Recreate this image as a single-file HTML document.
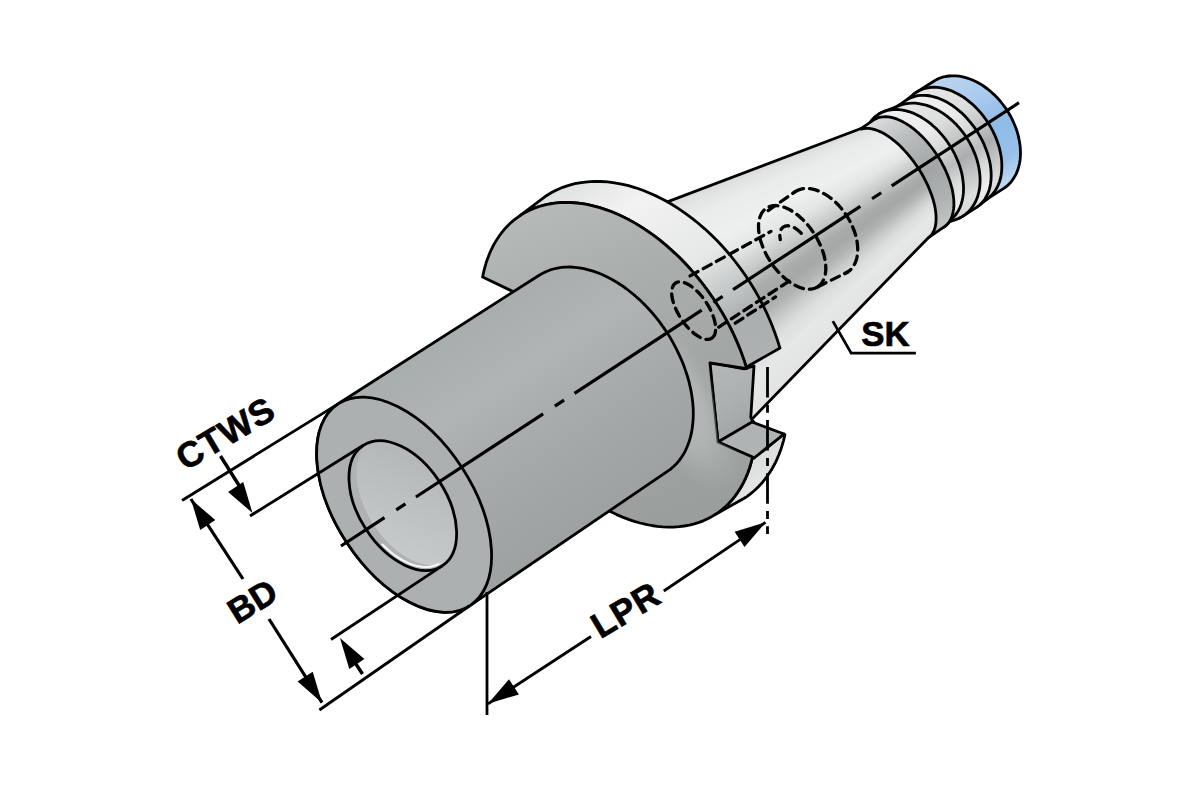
<!DOCTYPE html>
<html><head><meta charset="utf-8"><style>
html,body{margin:0;padding:0;background:#fff;}
svg{display:block;}
text{font-family:"Liberation Sans",sans-serif;font-weight:bold;}
</style></head><body>
<svg width="1200" height="800" viewBox="0 0 1200 800">
<defs><linearGradient id="rg_blue" gradientUnits="userSpaceOnUse" x1="882.9" y1="114.0" x2="954.1" y2="222.8"><stop offset="0" stop-color="#bcd5ef"/><stop offset="0.3" stop-color="#a9caee"/><stop offset="0.55" stop-color="#8fbbe8"/><stop offset="0.8" stop-color="#98c0ea"/><stop offset="1" stop-color="#c7dcf1"/></linearGradient>
<linearGradient id="rg_gray" gradientUnits="userSpaceOnUse" x1="882.9" y1="114.0" x2="954.1" y2="222.8"><stop offset="0" stop-color="#dcdede"/><stop offset="0.25" stop-color="#b9bdbd"/><stop offset="0.55" stop-color="#a1a5a5"/><stop offset="0.8" stop-color="#aeb2b2"/><stop offset="1" stop-color="#c5c8c8"/></linearGradient>
<linearGradient id="rg_l1" gradientUnits="userSpaceOnUse" x1="882.9" y1="114.0" x2="954.1" y2="222.8"><stop offset="0" stop-color="#f0f0f0"/><stop offset="0.3" stop-color="#ebebeb"/><stop offset="0.5" stop-color="#d2d4d4"/><stop offset="0.62" stop-color="#babdbd"/><stop offset="0.75" stop-color="#d8dada"/><stop offset="0.9" stop-color="#eeeeee"/><stop offset="1" stop-color="#e6e6e6"/></linearGradient>
<linearGradient id="rg_l2" gradientUnits="userSpaceOnUse" x1="882.9" y1="114.0" x2="954.1" y2="222.8"><stop offset="0" stop-color="#e8e8e8"/><stop offset="0.3" stop-color="#dcdddd"/><stop offset="0.5" stop-color="#c0c3c3"/><stop offset="0.62" stop-color="#aaadad"/><stop offset="0.75" stop-color="#c2c5c5"/><stop offset="0.9" stop-color="#dddede"/><stop offset="1" stop-color="#d8d8d8"/></linearGradient>
<linearGradient id="cg" gradientUnits="userSpaceOnUse" x1="739.8" y1="153.7" x2="860.2" y2="337.9"><stop offset="0" stop-color="#dcdcdc"/><stop offset="0.07" stop-color="#e4e4e4"/><stop offset="0.15" stop-color="#efefef"/><stop offset="0.3" stop-color="#ebebeb"/><stop offset="0.42" stop-color="#d6d7d7"/><stop offset="0.5" stop-color="#bec0c0"/><stop offset="0.58" stop-color="#a7aaaa"/><stop offset="0.645" stop-color="#b0b3b3"/><stop offset="0.71" stop-color="#cdcfcf"/><stop offset="0.78" stop-color="#e6e6e6"/><stop offset="0.9" stop-color="#ececec"/><stop offset="1" stop-color="#e4e4e4"/></linearGradient>
<clipPath id="coneclip"><path d="M600.0 227.4 L861.0 128.5 L861.5 129.1 L863.9 128.5 L866.4 128.3 L869.1 128.4 L871.9 128.8 L874.9 129.6 L878.0 130.7 L881.1 132.1 L884.3 133.8 L887.6 135.9 L890.9 138.2 L894.3 140.8 L897.6 143.6 L900.9 146.7 L904.1 150.1 L907.3 153.6 L910.4 157.3 L913.4 161.2 L916.3 165.2 L919.0 169.3 L921.6 173.5 L924.0 177.8 L926.2 182.1 L928.2 186.4 L930.0 190.7 L931.6 195.0 L933.0 199.2 L934.1 203.3 L935.0 207.3 L935.6 211.2 L936.0 214.9 L936.1 218.5 L936.0 221.8 L935.6 224.9 L935.0 227.7 L934.1 230.3 L932.9 232.7 L931.6 234.7 L930.0 236.4 L928.1 237.9 L700.0 472.5 Z"/></clipPath>
<linearGradient id="rimg" gradientUnits="userSpaceOnUse" x1="546.4" y1="195.7" x2="744.2" y2="498.3"><stop offset="0" stop-color="#e0e1e1"/><stop offset="0.15" stop-color="#f2f2f2"/><stop offset="0.38" stop-color="#e6e7e7"/><stop offset="0.48" stop-color="#c8cbcb"/><stop offset="0.58" stop-color="#aaaeae"/><stop offset="0.72" stop-color="#aeb2b2"/><stop offset="0.85" stop-color="#d2d4d4"/><stop offset="1" stop-color="#e6e6e6"/></linearGradient>
<linearGradient id="slotg" gradientUnits="userSpaceOnUse" x1="712.0" y1="370.0" x2="752.0" y2="430.0"><stop offset="0" stop-color="#b3b7b7"/><stop offset="0.5" stop-color="#acb0b0"/><stop offset="1" stop-color="#a0a4a4"/></linearGradient>
<linearGradient id="ffg" gradientUnits="userSpaceOnUse" x1="560.0" y1="195.0" x2="680.0" y2="520.0"><stop offset="0" stop-color="#b6bab9"/><stop offset="0.3" stop-color="#a9adac"/><stop offset="0.7" stop-color="#a0a4a3"/><stop offset="1" stop-color="#9a9e9d"/></linearGradient>
<clipPath id="ffclip"><path d="M482.6 277.1 L483.8 271.3 L485.3 265.6 L487.0 260.2 L489.0 254.9 L491.2 249.8 L493.6 245.0 L496.3 240.4 L499.2 236.0 L502.3 231.8 L505.6 227.9 L509.2 224.3 L512.9 220.9 L516.9 217.8 L521.0 215.0 L525.3 212.4 L529.8 210.1 L534.5 208.1 L539.3 206.5 L544.2 205.1 L549.3 204.0 L554.6 203.2 L559.9 202.7 L565.3 202.5 L570.9 202.6 L576.5 203.0 L582.3 203.7 L588.0 204.7 L593.9 206.1 L599.8 207.7 L605.7 209.6 L611.6 211.8 L617.6 214.3 L623.5 217.0 L629.5 220.1 L635.4 223.4 L641.3 227.0 L647.1 230.8 L652.9 234.9 L658.6 239.2 L664.3 243.8 L669.8 248.6 L675.3 253.6 L680.7 258.8 L685.9 264.2 L691.0 269.8 L696.0 275.6 L700.8 281.5 L705.5 287.6 L710.0 293.9 L714.4 300.2 L718.5 306.7 L722.5 313.3 L726.3 320.0 L729.9 326.8 L733.2 333.7 L736.4 340.6 L739.3 347.6 L742.0 354.6 L744.5 361.6 L746.7 368.6 L710.0 363.0 L718.0 442.0 L752.5 457.0 L751.1 462.6 L749.5 468.0 L747.6 473.2 L745.5 478.3 L743.2 483.1 L740.6 487.7 L737.8 492.1 L734.8 496.3 L731.6 500.3 L728.2 503.9 L724.6 507.4 L720.8 510.5 L716.8 513.5 L712.6 516.1 L708.3 518.5 L703.8 520.6 L699.1 522.4 L694.3 523.9 L689.3 525.1 L684.3 526.0 L679.1 526.7 L673.7 527.1 L668.3 527.1 L662.8 526.9 L657.2 526.4 L651.6 525.5 L645.9 524.4 L640.1 523.0 L634.3 521.3 L628.5 519.4 L622.6 517.1 L616.7 514.6 L610.9 511.8 L605.0 508.7 L599.2 505.4 L593.4 501.8 L587.7 498.0 L582.0 493.9 L576.3 489.6 L570.8 485.0 L565.3 480.3 L559.9 475.3 L554.7 470.2 L549.5 464.8 L544.5 459.3 L539.6 453.6 L534.9 447.7 L530.3 441.7 L525.8 435.5 L521.5 429.3 L517.5 422.9 L513.5 416.3 L509.8 409.7 L506.3 403.1 L502.9 396.3 L499.8 389.5 L496.9 382.6 L494.2 375.8 L491.8 368.9 L489.5 361.9 L526.0 367.0 L514.0 292.0 Z"/></clipPath>
<radialGradient id="ffhl"><stop offset="0" stop-color="#c4c8c8" stop-opacity="0.9"/><stop offset="0.6" stop-color="#bcc0c0" stop-opacity="0.5"/><stop offset="1" stop-color="#b0b4b4" stop-opacity="0"/></radialGradient>
<linearGradient id="shg" gradientUnits="userSpaceOnUse" x1="338.2" y1="403.8" x2="470.0" y2="605.6"><stop offset="0" stop-color="#a8adad"/><stop offset="0.3" stop-color="#b0b4b4"/><stop offset="0.55" stop-color="#a7abab"/><stop offset="0.8" stop-color="#a1a5a5"/><stop offset="1" stop-color="#9da1a1"/></linearGradient>
<linearGradient id="bore" gradientUnits="userSpaceOnUse" x1="370.0" y1="450.0" x2="450.0" y2="565.0"><stop offset="0" stop-color="#b0b4b4"/><stop offset="0.5" stop-color="#bec1c1"/><stop offset="1" stop-color="#cacdcd"/></linearGradient>
<clipPath id="boreclip"><ellipse cx="402.8" cy="505.6" rx="72.0" ry="43.8" transform="rotate(56.82 402.8 505.6)" /></clipPath></defs>
<rect width="1200" height="800" fill="#fff"/>
<path d="M906.3 151.7 L904.9 147.7 L903.6 143.6 L902.7 139.5 L901.9 135.4 L901.4 131.5 L901.2 127.5 L901.2 123.7 L901.4 120.0 L901.9 116.4 L902.6 112.9 L903.6 109.6 L904.8 106.5 L906.2 103.6 L907.9 100.8 L909.7 98.3 L911.8 96.0 L914.0 94.0 L916.5 92.2 L933.8 81.2 L936.5 79.6 L939.4 78.3 L942.4 77.2 L945.6 76.5 L948.9 76.0 L952.3 75.8 L955.7 75.8 L959.2 76.2 L962.8 76.9 L966.4 77.8 L970.0 79.0 L973.6 80.5 L977.2 82.2 L980.7 84.2 L984.2 86.5 L987.6 89.0 L990.9 91.7 L994.1 94.6 L997.2 97.7 L1000.1 101.0 L1002.9 104.5 L1005.6 108.1 L1008.0 111.8 L1010.3 115.7 L1012.3 119.6 L1014.1 123.7 L1015.8 127.7 L1017.2 131.8 L1018.3 135.9 L1019.2 140.1 L1019.9 144.2 L1020.3 148.2 L1020.5 152.2 L1020.4 156.1 L1020.1 159.9 L1019.5 163.5 L1018.6 167.1 L1017.6 170.4 L1016.3 173.6 L1014.7 176.6 L1012.9 179.4 L1011.0 182.0 L1008.8 184.4 L1006.4 186.5 L1003.8 188.4 L986.5 199.4 L983.9 200.9 L981.2 202.1 L978.2 203.1 L975.2 203.8 L972.0 204.2 L968.8 204.4 L965.5 204.2 L962.0 203.8 L958.6 203.0 L955.1 202.0 L951.6 200.8 L948.1 199.2 L944.6 197.4 L941.1 195.4 L937.7 193.1 L934.4 190.5 L931.1 187.8 L927.9 184.8 L924.9 181.7 L922.0 178.4 L919.2 174.9 L916.6 171.3 L914.1 167.6 L911.9 163.7 L909.8 159.8 L907.9 155.8 Z" fill="url(#rg_blue)" stroke="#000" stroke-width="2.8" stroke-linejoin="round"/>
<path d="M895.2 150.5 L894.1 146.4 L893.3 142.4 L892.8 138.5 L892.5 134.6 L892.4 130.8 L892.6 127.1 L893.0 123.5 L893.6 120.1 L894.5 116.9 L895.6 113.8 L897.0 111.0 L898.5 108.3 L900.3 105.8 L902.3 103.6 L904.4 101.7 L914.0 94.0 L916.5 92.2 L919.1 90.7 L921.8 89.5 L924.8 88.5 L927.8 87.8 L931.0 87.4 L934.2 87.2 L937.5 87.4 L941.0 87.8 L944.4 88.6 L947.9 89.6 L951.4 90.8 L954.9 92.4 L958.4 94.2 L961.9 96.2 L965.3 98.5 L968.6 101.1 L971.9 103.8 L975.1 106.8 L978.1 109.9 L981.0 113.2 L983.8 116.7 L986.4 120.3 L988.9 124.0 L991.1 127.9 L993.2 131.8 L995.1 135.8 L996.7 139.9 L998.1 143.9 L999.4 148.0 L1000.3 152.1 L1001.1 156.2 L1001.6 160.1 L1001.8 164.1 L1001.8 167.9 L1001.6 171.6 L1001.1 175.2 L1000.4 178.7 L999.4 182.0 L998.2 185.1 L996.8 188.0 L995.1 190.8 L993.3 193.3 L991.2 195.6 L989.0 197.6 L979.2 205.3 L976.8 207.1 L974.3 208.5 L971.6 209.7 L968.8 210.6 L965.9 211.3 L962.8 211.6 L959.6 211.7 L956.4 211.5 L953.1 211.0 L949.7 210.2 L946.3 209.2 L942.8 207.8 L939.4 206.3 L935.9 204.4 L932.5 202.3 L929.2 200.0 L925.9 197.4 L922.6 194.7 L919.5 191.7 L916.5 188.5 L913.6 185.2 L910.8 181.7 L908.2 178.1 L905.8 174.4 L903.5 170.5 L901.4 166.6 L899.5 162.6 L897.9 158.6 L896.4 154.5 Z" fill="url(#rg_l2)" stroke="#000" stroke-width="2.8" stroke-linejoin="round"/>
<path d="M877.1 137.1 L877.7 133.5 L878.6 129.9 L879.6 126.6 L880.9 123.4 L882.5 120.4 L884.3 117.6 L886.2 115.0 L888.4 112.6 L890.8 110.5 L893.4 108.6 L906.8 99.9 L909.3 98.5 L912.0 97.3 L914.8 96.4 L917.7 95.7 L920.8 95.4 L924.0 95.3 L927.2 95.5 L930.5 96.0 L933.9 96.8 L937.3 97.8 L940.8 99.2 L944.2 100.7 L947.7 102.6 L951.1 104.7 L954.4 107.0 L957.7 109.6 L961.0 112.3 L964.1 115.3 L967.1 118.5 L970.0 121.8 L972.8 125.3 L975.4 128.9 L977.8 132.6 L980.1 136.5 L982.2 140.4 L984.1 144.4 L985.7 148.4 L987.2 152.5 L988.4 156.5 L989.5 160.6 L990.3 164.6 L990.8 168.5 L991.1 172.4 L991.2 176.2 L991.0 179.9 L990.6 183.5 L990.0 186.9 L989.1 190.1 L988.0 193.2 L986.6 196.0 L985.1 198.7 L983.3 201.2 L981.3 203.4 L979.2 205.3 L976.8 207.1 L963.4 215.8 L960.7 217.4 L957.8 218.7 L954.8 219.8 L951.6 220.5 L948.3 221.0 L944.9 221.2 L941.5 221.2 L938.0 220.8 L934.4 220.1 L930.8 219.2 L927.2 218.0 L923.6 216.5 L920.0 214.8 L916.5 212.8 L913.0 210.5 L909.6 208.0 L906.3 205.3 L903.1 202.4 L900.0 199.3 L897.1 196.0 L894.3 192.5 L891.6 188.9 L889.2 185.2 L886.9 181.3 L884.9 177.4 L883.1 173.3 L881.4 169.3 L880.0 165.2 L878.9 161.1 L878.0 156.9 L877.3 152.8 L876.9 148.8 L876.7 144.8 L876.8 140.9 Z" fill="url(#rg_l1)" stroke="#000" stroke-width="2.8" stroke-linejoin="round"/>
<path d="M866.0 165.4 L865.0 161.4 L864.3 157.3 L863.8 153.3 L863.5 149.4 L863.5 145.6 L863.7 141.9 L864.2 138.3 L864.9 134.9 L865.8 131.6 L867.0 128.5 L868.4 125.6 L870.0 122.9 L871.8 120.4 L873.8 118.1 L876.1 116.1 L878.5 114.3 L881.1 112.8 L883.8 111.6 L899.0 105.7 L902.0 104.6 L905.2 103.9 L908.5 103.4 L911.9 103.2 L915.3 103.2 L918.8 103.6 L922.4 104.3 L926.0 105.2 L929.6 106.4 L933.2 107.9 L936.8 109.6 L940.3 111.6 L943.8 113.9 L947.2 116.4 L950.5 119.1 L953.7 122.0 L956.8 125.1 L959.7 128.4 L962.5 131.9 L965.2 135.5 L967.6 139.2 L969.9 143.1 L971.9 147.0 L973.7 151.1 L975.4 155.1 L976.8 159.2 L977.9 163.3 L978.8 167.5 L979.5 171.6 L979.9 175.6 L980.1 179.6 L980.0 183.5 L979.7 187.3 L979.1 190.9 L978.2 194.5 L977.2 197.8 L975.9 201.0 L974.3 204.0 L972.5 206.8 L970.6 209.4 L968.4 211.8 L966.0 213.9 L963.4 215.8 L960.7 217.4 L957.8 218.7 L943.2 224.2 L940.3 225.2 L937.3 225.8 L934.2 226.2 L931.0 226.3 L927.6 226.2 L924.3 225.7 L920.8 225.0 L917.4 224.0 L913.9 222.7 L910.4 221.1 L906.9 219.3 L903.5 217.2 L900.1 214.9 L896.7 212.4 L893.5 209.6 L890.3 206.7 L887.3 203.5 L884.4 200.2 L881.6 196.7 L879.0 193.1 L876.6 189.4 L874.3 185.5 L872.2 181.6 L870.4 177.6 L868.7 173.6 L867.2 169.5 Z" fill="url(#rg_l2)" stroke="#000" stroke-width="2.8" stroke-linejoin="round"/>
<path d="M955.2 215.4 L947.7 223.8 L946.0 225.5 L944.1 226.9 L942.1 228.0 L939.9 228.9 L937.5 229.5 L935.1 229.8 L932.5 229.9 L929.7 229.7 L926.9 229.2 L924.0 228.4 L921.0 227.4 L918.0 226.1 L914.9 224.5 L911.8 222.7 L908.6 220.7 L903.5 217.2 L900.1 214.9 L896.7 212.4 L893.5 209.6 L890.3 206.7 L887.3 203.5 L884.4 200.2 L881.6 196.7 L879.0 193.1 L876.6 189.4 L874.3 185.5 L872.2 181.6 L870.4 177.6 L868.7 173.6 L867.2 169.5 L866.0 165.4 L865.0 161.4 L864.3 157.3 L863.8 153.3 L863.5 149.4 L863.5 145.6 L863.7 141.9 L864.2 138.3 L864.9 134.9 L865.8 131.6 L866.6 129.2 L867.0 128.5 L867.7 126.8 L868.4 125.6 L870.0 122.9 L871.8 120.4 L873.8 118.1 L876.1 116.1 L878.5 114.3 L881.1 112.8 L883.8 111.6 L886.7 110.6 L889.7 110.0 L892.8 109.6 L896.0 109.5 L899.4 109.6 L902.7 110.1 L906.2 110.8 L909.6 111.8 L913.1 113.1 L916.6 114.7 L920.1 116.5 L923.5 118.6 L926.9 120.9 L930.3 123.4 L933.5 126.2 L936.7 129.1 L939.7 132.3 L942.6 135.6 L945.4 139.1 L948.0 142.7 L950.4 146.4 L952.7 150.3 L954.8 154.2 L956.6 158.2 L958.3 162.2 L959.8 166.3 L961.0 170.4 L962.0 174.4 L962.7 178.5 L963.2 182.5 L963.5 186.4 L963.5 190.2 L963.3 193.9 L962.8 197.5 L962.1 200.9 L961.2 204.2 L960.0 207.3 L958.6 210.2 L957.0 212.9 Z" fill="url(#rg_l1)" stroke="#000" stroke-width="2.8" stroke-linejoin="round"/>
<path d="M944.1 226.9 L928.1 237.9 L926.3 238.9 L924.3 239.6 L922.2 240.1 L919.9 240.3 L917.5 240.2 L914.9 239.9 L912.3 239.3 L909.5 238.4 L906.7 237.3 L903.8 235.9 L900.9 234.2 L897.9 232.3 L894.9 230.2 L891.9 227.8 L888.9 225.3 L886.0 222.5 L883.0 219.5 L880.1 216.4 L877.3 213.1 L874.5 209.7 L871.9 206.2 L869.3 202.5 L866.9 198.8 L864.6 195.0 L862.4 191.1 L860.3 187.2 L858.5 183.3 L856.8 179.4 L855.3 175.5 L853.9 171.7 L852.8 167.9 L851.8 164.2 L851.1 160.6 L850.5 157.1 L850.2 153.8 L850.1 150.6 L850.1 147.5 L850.4 144.7 L850.9 142.0 L851.6 139.6 L852.5 137.3 L853.6 135.3 L854.9 133.5 L856.4 132.0 L858.1 130.7 L874.1 119.7 L876.1 118.6 L878.3 117.7 L880.7 117.1 L883.1 116.8 L885.7 116.7 L888.5 116.9 L891.3 117.4 L894.2 118.2 L897.2 119.2 L900.2 120.5 L903.3 122.1 L906.4 123.9 L909.6 125.9 L912.7 128.2 L915.8 130.7 L918.9 133.4 L921.9 136.3 L924.9 139.4 L927.8 142.6 L930.5 146.0 L933.2 149.5 L935.8 153.2 L938.3 156.9 L940.6 160.7 L942.7 164.6 L944.7 168.5 L946.5 172.5 L948.1 176.4 L949.6 180.4 L950.8 184.3 L951.9 188.1 L952.7 191.9 L953.3 195.6 L953.7 199.1 L953.9 202.6 L953.9 205.9 L953.6 209.0 L953.1 212.0 L952.5 214.8 L951.6 217.4 L950.5 219.8 L949.2 221.9 L947.7 223.8 L946.0 225.5 Z" fill="url(#rg_gray)" stroke="#000" stroke-width="2.8" stroke-linejoin="round"/>
<g clip-path="url(#coneclip)"><polygon points="1148.0,19.8 614.4,615.9 608.2,610.2" fill="#e2e4e4"/><polygon points="1148.0,19.8 611.0,612.7 604.7,607.0" fill="#e2e4e4"/><polygon points="1148.0,19.8 607.5,609.6 601.3,603.8" fill="#e2e4e4"/><polygon points="1148.0,19.8 604.0,606.4 597.9,600.6" fill="#e2e4e4"/><polygon points="1148.0,19.8 600.6,603.2 594.5,597.4" fill="#e2e4e4"/><polygon points="1148.0,19.8 597.2,600.0 591.1,594.1" fill="#e2e4e4"/><polygon points="1148.0,19.8 593.8,596.7 587.7,590.8" fill="#e2e4e4"/><polygon points="1148.0,19.8 590.4,593.5 584.4,587.5" fill="#e2e4e4"/><polygon points="1148.0,19.8 587.0,590.2 581.0,584.2" fill="#e2e4e4"/><polygon points="1148.0,19.8 583.7,586.9 577.7,580.9" fill="#e2e4e4"/><polygon points="1148.0,19.8 580.4,583.5 574.4,577.5" fill="#e3e5e5"/><polygon points="1148.0,19.8 577.1,580.2 571.2,574.1" fill="#e3e5e5"/><polygon points="1148.0,19.8 573.8,576.8 567.9,570.7" fill="#e4e6e6"/><polygon points="1148.0,19.8 570.5,573.5 564.7,567.3" fill="#e4e6e6"/><polygon points="1148.0,19.8 567.3,570.1 561.5,563.9" fill="#e5e7e7"/><polygon points="1148.0,19.8 564.1,566.6 558.3,560.4" fill="#e5e7e7"/><polygon points="1148.0,19.8 560.9,563.2 555.2,557.0" fill="#e6e8e8"/><polygon points="1148.0,19.8 557.7,559.7 552.0,553.5" fill="#e6e8e8"/><polygon points="1148.0,19.8 554.5,556.3 548.9,550.0" fill="#e4e6e6"/><polygon points="1148.0,19.8 551.4,552.8 545.8,546.4" fill="#e2e4e4"/><polygon points="1148.0,19.8 548.3,549.2 542.7,542.9" fill="#e0e2e2"/><polygon points="1148.0,19.8 545.2,545.7 539.6,539.3" fill="#dfe1e1"/><polygon points="1148.0,19.8 542.1,542.2 536.6,535.7" fill="#dddfdf"/><polygon points="1148.0,19.8 539.0,538.6 533.6,532.1" fill="#dadcdc"/><polygon points="1148.0,19.8 536.0,535.0 530.6,528.5" fill="#d6d8d8"/><polygon points="1148.0,19.8 533.0,531.4 527.6,524.9" fill="#d2d4d4"/><polygon points="1148.0,19.8 530.0,527.8 524.6,521.2" fill="#cdcfcf"/><polygon points="1148.0,19.8 527.0,524.2 521.7,517.6" fill="#c9cbcb"/><polygon points="1148.0,19.8 524.1,520.5 518.8,513.9" fill="#c4c6c6"/><polygon points="1148.0,19.8 521.1,516.8 515.9,510.2" fill="#bec0c0"/><polygon points="1148.0,19.8 518.2,513.1 513.0,506.4" fill="#b9bbbb"/><polygon points="1148.0,19.8 515.3,509.4 510.2,502.7" fill="#b4b6b6"/><polygon points="1148.0,19.8 512.5,505.7 507.4,499.0" fill="#b0b2b2"/><polygon points="1148.0,19.8 509.6,502.0 504.6,495.2" fill="#aeb0b0"/><polygon points="1148.0,19.8 506.8,498.2 501.8,491.4" fill="#abadad"/><polygon points="1148.0,19.8 504.0,494.4 499.0,487.6" fill="#a8aaaa"/><polygon points="1148.0,19.8 501.2,490.6 496.3,483.8" fill="#a6a8a8"/><polygon points="1148.0,19.8 498.5,486.8 493.6,479.9" fill="#a7a9a9"/><polygon points="1148.0,19.8 495.7,483.0 490.9,476.1" fill="#a8aaaa"/><polygon points="1148.0,19.8 493.0,479.2 488.2,472.2" fill="#a9abab"/><polygon points="1148.0,19.8 490.3,475.3 485.6,468.3" fill="#aaacac"/><polygon points="1148.0,19.8 487.7,471.4 482.9,464.4" fill="#aeb0b0"/><polygon points="1148.0,19.8 485.0,467.6 480.3,460.5" fill="#b2b4b4"/><polygon points="1148.0,19.8 482.4,463.7 477.8,456.6" fill="#b6b8b8"/><polygon points="1148.0,19.8 479.8,459.7 475.2,452.6" fill="#babcbc"/><polygon points="1148.0,19.8 477.3,455.8 472.7,448.7" fill="#bec0c0"/><polygon points="1148.0,19.8 474.7,451.9 470.2,444.7" fill="#c2c4c4"/><polygon points="1148.0,19.8 472.2,447.9 467.7,440.7" fill="#c6c8c8"/><polygon points="1148.0,19.8 469.7,443.9 465.2,436.7" fill="#cacccc"/><polygon points="1148.0,19.8 467.2,439.9 462.8,432.7" fill="#ced0d0"/><polygon points="1148.0,19.8 464.7,435.9 460.4,428.7" fill="#d1d3d3"/><polygon points="1148.0,19.8 462.3,431.9 458.0,424.6" fill="#d5d7d7"/><polygon points="1148.0,19.8 459.9,427.9 455.6,420.6" fill="#d8dada"/><polygon points="1148.0,19.8 457.5,423.8 453.3,416.5" fill="#dcdede"/><polygon points="1148.0,19.8 455.2,419.8 451.0,412.4" fill="#dfe1e1"/><polygon points="1148.0,19.8 452.8,415.7 448.7,408.3" fill="#e2e4e4"/><polygon points="1148.0,19.8 450.5,411.6 446.4,404.2" fill="#e5e7e7"/><polygon points="1148.0,19.8 448.2,407.5 444.2,400.1" fill="#e6e8e8"/><polygon points="1148.0,19.8 446.0,403.4 441.9,395.9" fill="#e7e9e9"/><polygon points="1148.0,19.8 443.7,399.2 439.7,391.8" fill="#e9ebeb"/><polygon points="1148.0,19.8 441.5,395.1 437.6,387.6" fill="#eaecec"/><polygon points="1148.0,19.8 439.3,390.9 435.4,383.4" fill="#eceeee"/><polygon points="1148.0,19.8 437.1,386.8 433.3,379.2" fill="#edefef"/><polygon points="1148.0,19.8 435.0,382.6 431.2,375.0" fill="#eef0f0"/><polygon points="1148.0,19.8 432.9,378.4 429.1,370.8" fill="#eef0f0"/><polygon points="1148.0,19.8 430.8,374.2 427.1,366.6" fill="#edefef"/><polygon points="1148.0,19.8 428.7,370.0 425.0,362.3" fill="#edefef"/><polygon points="1148.0,19.8 426.7,365.7 423.0,358.1" fill="#eceeee"/><polygon points="1148.0,19.8 424.6,361.5 421.1,353.8" fill="#eceeee"/><polygon points="1148.0,19.8 422.7,357.2 419.1,349.6" fill="#eceeee"/><polygon points="1148.0,19.8 420.7,353.0 417.2,345.3" fill="#ebeded"/><polygon points="1148.0,19.8 418.7,348.7 415.3,341.0" fill="#ebeded"/><polygon points="1148.0,19.8 416.8,344.4 413.4,336.7" fill="#ebeded"/><polygon points="1148.0,19.8 414.9,340.1 411.6,332.3" fill="#eaecec"/><polygon points="1148.0,19.8 413.1,335.8 409.8,328.0" fill="#e9ebeb"/><polygon points="1148.0,19.8 411.2,331.5 408.0,323.7" fill="#e7e9e9"/><polygon points="1148.0,19.8 409.4,327.1 406.2,319.3" fill="#e5e7e7"/><polygon points="1148.0,19.8 407.6,322.8 404.4,315.0" fill="#e4e6e6"/><polygon points="1148.0,19.8 405.8,318.4 402.7,310.6" fill="#e2e4e4"/><polygon points="1148.0,19.8 404.1,314.1 401.0,306.2" fill="#dfe1e1"/><polygon points="1148.0,19.8 402.4,309.7 399.4,301.8" fill="#dcdede"/><polygon points="1148.0,19.8 400.7,305.3 397.7,297.4" fill="#d8dada"/><polygon points="1148.0,19.8 399.0,300.9 396.1,293.0" fill="#d8dada"/><polygon points="1148.0,19.8 397.4,296.5 394.5,288.6" fill="#d8dada"/><polygon points="1148.0,19.8 395.8,292.1 392.9,284.1" fill="#d8dada"/><polygon points="1148.0,19.8 394.2,287.7 391.4,279.7" fill="#d8dada"/><polygon points="1148.0,19.8 392.6,283.3 389.9,275.3" fill="#d8dada"/><polygon points="1148.0,19.8 391.1,278.8 388.4,270.8" fill="#d8dada"/><polygon points="1148.0,19.8 389.6,274.4 386.9,266.3" fill="#d8dada"/><polygon points="1148.0,19.8 388.1,269.9 385.5,261.9" fill="#d8dada"/></g>
<path d="M600.0 227.4 L861.0 128.5 L861.5 129.1 L863.9 128.5 L866.4 128.3 L869.1 128.4 L871.9 128.8 L874.9 129.6 L878.0 130.7 L881.1 132.1 L884.3 133.8 L887.6 135.9 L890.9 138.2 L894.3 140.8 L897.6 143.6 L900.9 146.7 L904.1 150.1 L907.3 153.6 L910.4 157.3 L913.4 161.2 L916.3 165.2 L919.0 169.3 L921.6 173.5 L924.0 177.8 L926.2 182.1 L928.2 186.4 L930.0 190.7 L931.6 195.0 L933.0 199.2 L934.1 203.3 L935.0 207.3 L935.6 211.2 L936.0 214.9 L936.1 218.5 L936.0 221.8 L935.6 224.9 L935.0 227.7 L934.1 230.3 L932.9 232.7 L931.6 234.7 L930.0 236.4 L928.1 237.9 L700.0 472.5 Z" fill="none" stroke="#000" stroke-width="2.8" stroke-linejoin="round"/>
<path d="M520.3 215.4 L525.3 212.4 L530.5 209.8 L535.9 207.6 L541.5 205.8 L547.3 204.4 L553.3 203.3 L559.4 202.7 L565.7 202.5 L572.1 202.7 L578.7 203.2 L585.3 204.2 L592.0 205.6 L598.8 207.4 L605.6 209.6 L612.5 212.1 L619.4 215.1 L626.2 218.4 L633.1 222.1 L639.9 226.1 L646.6 230.5 L653.3 235.2 L659.9 240.2 L666.4 245.6 L672.8 251.2 L679.0 257.1 L685.1 263.3 L691.0 269.8 L696.7 276.5 L702.3 283.4 L707.6 290.5 L712.7 297.8 L717.6 305.2 L722.2 312.8 L726.6 320.6 L730.7 328.4 L734.5 336.3 L738.0 344.3 L741.2 352.4 L744.1 360.5 L746.7 368.6 L744.0 368.5 L780.0 348.0 L779.9 348.0 L777.3 339.7 L774.4 331.5 L771.2 323.3 L767.7 315.2 L763.9 307.1 L759.8 299.1 L755.4 291.3 L750.7 283.6 L745.8 276.0 L740.6 268.6 L735.2 261.5 L729.6 254.5 L723.7 247.8 L717.7 241.3 L711.4 235.1 L705.0 229.1 L698.5 223.5 L691.8 218.1 L685.0 213.1 L678.1 208.4 L671.2 204.0 L664.1 200.0 L657.1 196.4 L649.9 193.2 L642.8 190.3 L635.7 187.8 L628.6 185.7 L621.6 184.1 L614.6 182.8 L607.7 181.9 L600.8 181.5 L594.1 181.4 L587.5 181.8 L581.1 182.6 L574.8 183.7 L568.7 185.3 L562.8 187.3 L557.1 189.7 L551.6 192.5 L546.4 195.7 Z" fill="url(#rimg)" stroke="#000" stroke-width="2.8" stroke-linejoin="round"/>
<path d="M754.0 458.0 L784.0 434.0 L784.9 434.6 L784.5 436.7 L784.0 438.7 L783.5 440.8 L782.9 442.8 L782.3 444.8 L781.7 446.8 L781.1 448.7 L780.4 450.7 L779.7 452.6 L779.0 454.5 L778.2 456.3 L777.4 458.2 L776.6 460.0 L775.8 461.8 L774.9 463.5 L774.0 465.3 L773.0 467.0 L772.1 468.7 L771.1 470.3 L770.1 471.9 L769.0 473.5 L768.0 475.1 L766.9 476.7 L765.7 478.2 L764.6 479.7 L763.4 481.1 L762.2 482.6 L761.0 484.0 L759.7 485.3 L758.4 486.7 L757.1 488.0 L755.8 489.3 L754.4 490.5 L753.0 491.7 L751.6 492.9 L750.2 494.1 L748.7 495.2 L747.3 496.3 L745.8 497.3 L744.2 498.3 L715.7 514.2 L717.0 513.3 L718.4 512.3 L719.7 511.4 L721.0 510.4 L722.3 509.3 L723.6 508.3 L724.8 507.2 L726.0 506.1 L727.2 504.9 L728.4 503.8 L729.5 502.6 L730.7 501.3 L731.8 500.1 L732.9 498.8 L733.9 497.5 L735.0 496.2 L736.0 494.8 L737.0 493.4 L737.9 492.0 L738.9 490.6 L739.8 489.1 L740.7 487.6 L741.6 486.1 L742.4 484.6 L743.2 483.0 L744.0 481.4 L744.8 479.8 L745.6 478.2 L746.3 476.5 L747.0 474.9 L747.6 473.2 L748.3 471.5 L748.9 469.7 L749.5 468.0 L750.1 466.2 L750.6 464.4 L751.1 462.5 L751.6 460.7 L752.1 458.8 L752.5 457.0 Z" fill="url(#rimg)" stroke="#000" stroke-width="2.8" stroke-linejoin="round"/>
<path d="M713 363 Q709 363 710 368 L718 442 L754 422 Q750 419 751 414 L754 366 L744 369 Z" fill="url(#slotg)" stroke="#000" stroke-width="2.8" stroke-linejoin="round"/>
<polygon points="718.0,442.0 752.0,422.0 784.0,434.0 754.0,458.0" fill="#b0b3b3" stroke="#000" stroke-width="2.8" stroke-linejoin="round"/>
<path d="M482.6 277.1 L483.8 271.3 L485.3 265.6 L487.0 260.2 L489.0 254.9 L491.2 249.8 L493.6 245.0 L496.3 240.4 L499.2 236.0 L502.3 231.8 L505.6 227.9 L509.2 224.3 L512.9 220.9 L516.9 217.8 L521.0 215.0 L525.3 212.4 L529.8 210.1 L534.5 208.1 L539.3 206.5 L544.2 205.1 L549.3 204.0 L554.6 203.2 L559.9 202.7 L565.3 202.5 L570.9 202.6 L576.5 203.0 L582.3 203.7 L588.0 204.7 L593.9 206.1 L599.8 207.7 L605.7 209.6 L611.6 211.8 L617.6 214.3 L623.5 217.0 L629.5 220.1 L635.4 223.4 L641.3 227.0 L647.1 230.8 L652.9 234.9 L658.6 239.2 L664.3 243.8 L669.8 248.6 L675.3 253.6 L680.7 258.8 L685.9 264.2 L691.0 269.8 L696.0 275.6 L700.8 281.5 L705.5 287.6 L710.0 293.9 L714.4 300.2 L718.5 306.7 L722.5 313.3 L726.3 320.0 L729.9 326.8 L733.2 333.7 L736.4 340.6 L739.3 347.6 L742.0 354.6 L744.5 361.6 L746.7 368.6 L710.0 363.0 L718.0 442.0 L752.5 457.0 L751.1 462.6 L749.5 468.0 L747.6 473.2 L745.5 478.3 L743.2 483.1 L740.6 487.7 L737.8 492.1 L734.8 496.3 L731.6 500.3 L728.2 503.9 L724.6 507.4 L720.8 510.5 L716.8 513.5 L712.6 516.1 L708.3 518.5 L703.8 520.6 L699.1 522.4 L694.3 523.9 L689.3 525.1 L684.3 526.0 L679.1 526.7 L673.7 527.1 L668.3 527.1 L662.8 526.9 L657.2 526.4 L651.6 525.5 L645.9 524.4 L640.1 523.0 L634.3 521.3 L628.5 519.4 L622.6 517.1 L616.7 514.6 L610.9 511.8 L605.0 508.7 L599.2 505.4 L593.4 501.8 L587.7 498.0 L582.0 493.9 L576.3 489.6 L570.8 485.0 L565.3 480.3 L559.9 475.3 L554.7 470.2 L549.5 464.8 L544.5 459.3 L539.6 453.6 L534.9 447.7 L530.3 441.7 L525.8 435.5 L521.5 429.3 L517.5 422.9 L513.5 416.3 L509.8 409.7 L506.3 403.1 L502.9 396.3 L499.8 389.5 L496.9 382.6 L494.2 375.8 L491.8 368.9 L489.5 361.9 L526.0 367.0 L514.0 292.0 Z" fill="url(#ffg)" stroke="#000" stroke-width="2.8" stroke-linejoin="round"/>
<g clip-path="url(#ffclip)"><ellipse cx="668.0" cy="392.0" rx="115.0" ry="45.0" transform="rotate(56.82 668.0 392.0)" fill="url(#ffhl)"/></g>
<path d="M538.8 275.5 L542.2 273.5 L545.8 271.7 L549.5 270.2 L553.4 269.0 L557.4 268.1 L561.6 267.4 L565.8 267.1 L570.2 267.0 L574.7 267.3 L579.2 267.8 L583.8 268.7 L588.4 269.8 L593.1 271.2 L597.9 272.8 L602.6 274.8 L607.3 277.0 L612.0 279.5 L616.7 282.3 L621.4 285.2 L626.0 288.5 L630.5 292.0 L635.0 295.7 L639.4 299.6 L643.7 303.7 L647.8 308.0 L651.9 312.5 L655.8 317.1 L659.5 321.9 L663.1 326.9 L666.6 332.0 L669.9 337.1 L672.9 342.4 L675.8 347.8 L678.5 353.3 L681.0 358.8 L683.3 364.3 L685.3 369.9 L687.2 375.5 L688.8 381.0 L690.1 386.6 L691.3 392.1 L692.1 397.6 L692.8 403.0 L693.2 408.3 L693.3 413.5 L693.2 418.6 L692.8 423.6 L692.2 428.5 L691.4 433.2 L690.3 437.7 L689.0 442.1 L687.4 446.3 L685.6 450.3 L683.6 454.0 L681.3 457.6 L678.9 460.9 L676.2 464.0 L673.3 466.8 L670.3 469.4 L667.0 471.7 L470.0 605.6 L466.9 607.4 L463.7 608.9 L460.2 610.2 L456.7 611.2 L452.9 611.8 L449.1 612.2 L445.1 612.3 L441.0 612.1 L436.8 611.6 L432.5 610.8 L428.1 609.8 L423.7 608.4 L419.2 606.7 L414.6 604.8 L410.1 602.6 L405.5 600.1 L400.9 597.4 L396.3 594.4 L391.8 591.2 L387.3 587.7 L382.8 584.0 L378.4 580.1 L374.1 575.9 L369.8 571.6 L365.6 567.1 L361.6 562.4 L357.6 557.6 L353.8 552.6 L350.1 547.5 L346.6 542.3 L343.2 537.0 L340.0 531.5 L337.0 526.1 L334.1 520.5 L331.5 514.9 L329.0 509.3 L326.8 503.7 L324.7 498.0 L322.9 492.4 L321.3 486.8 L320.0 481.3 L318.8 475.8 L317.9 470.4 L317.2 465.2 L316.8 460.0 L316.6 454.9 L316.7 450.0 L317.0 445.2 L317.5 440.6 L318.2 436.2 L319.2 431.9 L320.5 427.9 L321.9 424.0 L323.6 420.4 L325.5 417.0 L327.6 413.9 L330.0 411.0 L332.5 408.3 L335.2 406.0 L338.2 403.8 Z" fill="url(#shg)" stroke="#000" stroke-width="2.8" stroke-linejoin="round"/>
<ellipse cx="404.1" cy="504.7" rx="120.5" ry="68.7" transform="rotate(56.82 404.1 504.7)" fill="#acb0b0" stroke="#000" stroke-width="2.8"/>
<ellipse cx="402.8" cy="505.6" rx="72.0" ry="43.8" transform="rotate(56.82 402.8 505.6)" fill="#aeb2b2"/>
<g clip-path="url(#boreclip)"><ellipse cx="410.3" cy="500.7" rx="72.0" ry="43.8" transform="rotate(56.82 410.3 500.7)" fill="url(#bore)"/></g>
<path d="M382.6 544.6 L385.4 547.4 L388.3 550.0 L391.2 552.5 L394.2 554.8 L397.2 556.9 L400.2 558.8 L403.2 560.6 L406.2 562.1 L409.2 563.5 L412.2 564.6 L415.2 565.5 L418.1 566.2 L420.9 566.7 L423.7 567.0 L426.4 567.0 L429.1 566.8 L431.6 566.4 L434.0 565.8 L436.4 565.0 L438.6 564.0" fill="none" stroke="#f4f4f4" stroke-width="2.2" stroke-linecap="round"/>
<ellipse cx="402.8" cy="505.6" rx="72.0" ry="43.8" transform="rotate(56.82 402.8 505.6)" fill="none" stroke="#000" stroke-width="2.8"/>
<path d="M690.1 275.9 L770.9 231.4" fill="none" stroke="#000" stroke-width="3.3" stroke-dasharray="9 6" stroke-linecap="round"/>
<path d="M718.8 327.1 L789.1 281.1" fill="none" stroke="#000" stroke-width="3.3" stroke-dasharray="9 6" stroke-linecap="round"/>
<path d="M735.3 323.2 L775.5 296.9" fill="none" stroke="#000" stroke-width="3.3" stroke-dasharray="9 6" stroke-linecap="round"/>
<path d="M711.7 338.2 L713.2 336.9 L714.4 335.2 L715.2 333.0 L715.6 330.4 L715.7 327.5 L715.3 324.3 L714.6 320.9 L713.6 317.3 L712.2 313.6 L710.5 309.8 L708.5 306.1 L706.2 302.4 L703.8 298.9 L701.1 295.5 L698.4 292.5 L695.5 289.7 L692.6 287.3 L689.8 285.3 L687.0 283.7 L684.3 282.6 L681.8 282.0 L679.5 281.8 L677.4 282.2 L675.6 283.0 L674.1 284.3 L673.0 286.1 L672.2 288.2 L671.8 290.8 L671.7 293.7 L672.0 296.9 L672.7 300.3 L673.8 303.9 L675.2 307.6 L676.9 311.4 L678.9 315.1 L681.1 318.8 L683.6 322.4 L686.2 325.7 L689.0 328.8 L691.8 331.5 L694.7 333.9 L697.6 335.9 L700.4 337.5 L703.0 338.6 L705.6 339.3 L707.9 339.4 L709.9 339.1 L711.7 338.2" fill="none" stroke="#000" stroke-width="3.3" stroke-dasharray="9 6" stroke-linecap="round"/>
<path d="M817.9 286.8 L820.5 284.6 L822.6 281.7 L824.2 278.3 L825.3 274.4 L825.8 270.0 L825.7 265.2 L825.1 260.1 L823.9 254.8 L822.1 249.3 L819.8 243.9 L817.1 238.4 L813.9 233.2 L810.4 228.2 L806.5 223.5 L802.4 219.2 L798.1 215.4 L793.8 212.2 L789.4 209.5 L785.0 207.5 L780.8 206.2 L776.7 205.6 L772.9 205.7 L769.5 206.6 L766.4 208.1 L763.8 210.3 L761.7 213.1 L760.1 216.5 L759.0 220.5 L758.5 224.9 L758.6 229.7 L759.2 234.8 L760.4 240.1 L762.2 245.5 L764.5 251.0 L767.2 256.4 L770.4 261.6 L773.9 266.7 L777.8 271.3 L781.9 275.6 L786.2 279.4 L790.5 282.7 L795.0 285.3 L799.3 287.3 L803.5 288.6 L807.6 289.2 L811.4 289.1 L814.8 288.3 L817.9 286.8" fill="none" stroke="#000" stroke-width="3.3" stroke-dasharray="9 6" stroke-linecap="round"/>
<path d="M801.3 233.3 L798.0 230.2 L794.6 227.8 L791.2 226.3 L788.0 225.7 L785.2 226.0 L782.9 227.3 L781.1 229.4 L780.1 232.3 L779.8 235.8 L780.3 239.7" fill="none" stroke="#000" stroke-width="3.3" stroke-dasharray="9 6" stroke-linecap="round"/>
<path d="M795.1 191.7 L797.3 190.5 L799.5 189.6 L802.0 188.9 L804.5 188.6 L807.2 188.5 L809.9 188.7 L812.7 189.2 L815.6 189.9 L818.6 191.0 L821.5 192.3 L824.4 193.9 L827.4 195.7 L830.2 197.7 L833.1 200.0 L835.8 202.5 L838.5 205.2 L841.0 208.0 L843.4 211.1 L845.7 214.2 L847.8 217.5 L849.7 220.8 L851.5 224.3 L853.0 227.8 L854.4 231.3 L855.5 234.8 L856.4 238.3 L857.1 241.7 L857.5 245.1 L857.7 248.4 L857.7 251.6 L857.4 254.7 L856.9 257.6 L856.2 260.3 L855.2 262.9 L854.0 265.3 L852.6 267.4 L851.0 269.3 L849.2 270.9 L847.2 272.3 L845.0 273.5" fill="none" stroke="#000" stroke-width="3.3" stroke-dasharray="9 6" stroke-linecap="round"/>
<path d="M768.1 210.6 L795.1 191.7" fill="none" stroke="#000" stroke-width="3.3" stroke-dasharray="9 6" stroke-linecap="round"/>
<path d="M817.9 286.8 L847.7 272.0" fill="none" stroke="#000" stroke-width="3.3" stroke-dasharray="9 6" stroke-linecap="round"/>
<line x1="341" y1="546" x2="1020" y2="102" stroke="#000" stroke-width="3.2" stroke-dasharray="152 14 11 12.5" stroke-dashoffset="100"/>
<line x1="182.0" y1="500.5" x2="338.2" y2="403.9" stroke="#000" stroke-width="2.8" />
<line x1="250.0" y1="516.0" x2="363.4" y2="445.3" stroke="#000" stroke-width="2.8" />
<line x1="331.0" y1="639.5" x2="442.2" y2="565.9" stroke="#000" stroke-width="2.8" />
<line x1="319.4" y1="710.0" x2="470.0" y2="605.5" stroke="#000" stroke-width="2.8" />
<line x1="487.0" y1="592.0" x2="487.0" y2="715.0" stroke="#000" stroke-width="2.8" />
<line x1="767.5" y1="367" x2="767.5" y2="534" stroke="#000" stroke-width="2.8" stroke-dasharray="30.5 7.3 8 7.3"/>
<line x1="190.9" y1="499.0" x2="243.0" y2="579.0" stroke="#000" stroke-width="3.2" />
<line x1="269.0" y1="619.0" x2="322.0" y2="702.7" stroke="#000" stroke-width="3.2" />
<polygon points="190.9,499.0 215.3,520.1 200.2,529.9" fill="#000"/>
<polygon points="322.0,702.7 297.6,681.6 312.7,671.8" fill="#000"/>
<text transform="translate(252.2 600.8) rotate(-31.70)" x="0" y="12.5" text-anchor="middle" font-size="35.0" letter-spacing="0.0" stroke="#000" stroke-width="0.7">BD</text>
<line x1="220.5" y1="456.0" x2="240.0" y2="487.0" stroke="#000" stroke-width="3.4" />
<polygon points="252.5,513.0 228.1,491.9 243.2,482.1" fill="#000"/>
<line x1="362.5" y1="674.0" x2="350.0" y2="655.0" stroke="#000" stroke-width="3.4" />
<polygon points="340.0,638.0 364.4,659.1 349.3,668.9" fill="#000"/>
<text transform="translate(225.3 433.0) rotate(-30.50)" x="0" y="12.7" text-anchor="middle" font-size="35.5" letter-spacing="0.8" stroke="#000" stroke-width="0.7">CTWS</text>
<line x1="488.0" y1="703.8" x2="591.0" y2="636.5" stroke="#000" stroke-width="2.8" />
<line x1="663.8" y1="591.0" x2="765.5" y2="522.4" stroke="#000" stroke-width="2.8" />
<polygon points="488.0,703.8 509.0,679.3 518.9,694.4" fill="#000"/>
<polygon points="765.5,522.4 744.5,546.9 734.6,531.8" fill="#000"/>
<text transform="translate(625.5 609.5) rotate(-31.00)" x="0" y="12.7" text-anchor="middle" font-size="35.5" letter-spacing="0.8" stroke="#000" stroke-width="0.7">LPR</text>
<polyline points="832.8,321.1 851.2,353.2 915.9,353.2" fill="none" stroke="#000" stroke-width="2.8"/>
<text x="861.2" y="345.8" font-size="34.8" stroke="#000" stroke-width="0.7">SK</text>
</svg></body></html>
